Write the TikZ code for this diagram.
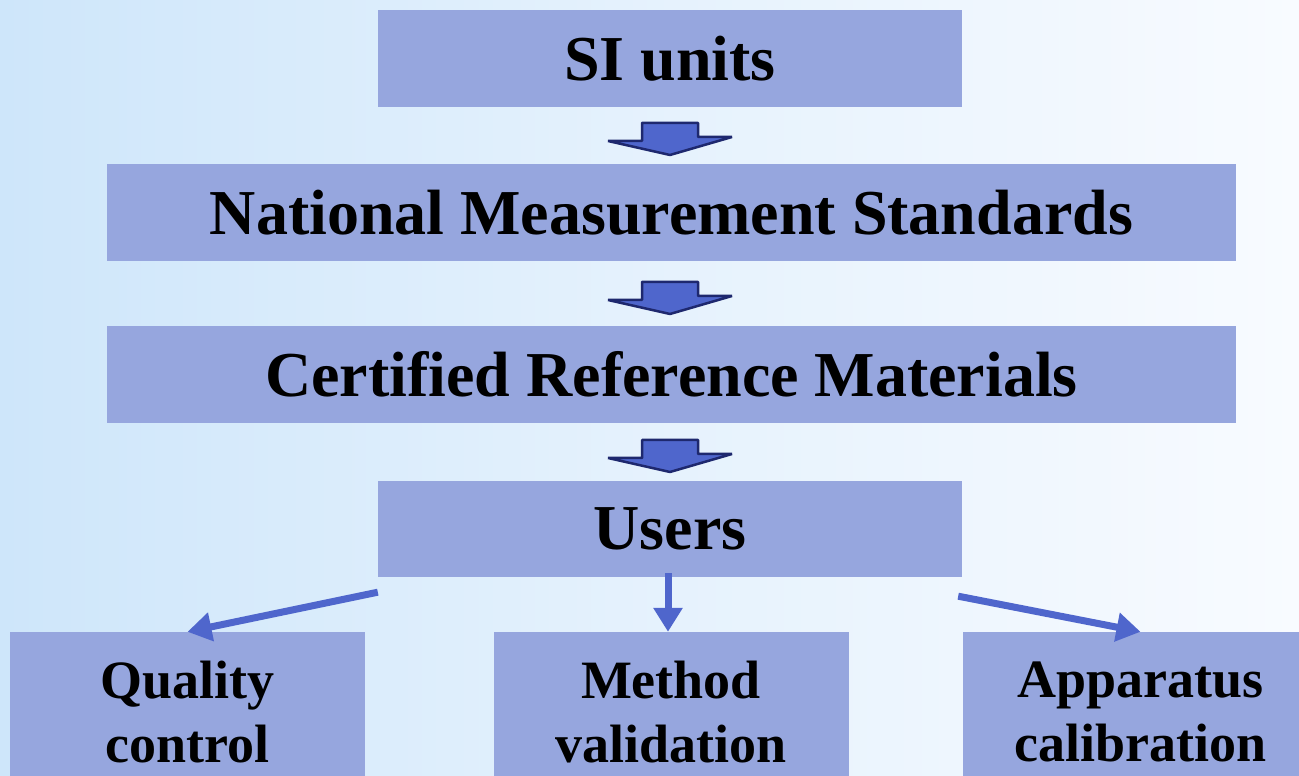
\documentclass[tikz,border=0pt]{standalone}
\usepackage{fontspec}
\setmainfont{Liberation Serif}
\usetikzlibrary{arrows.meta,positioning,calc}
\definecolor{boxblue}{RGB}{150,166,222}
\definecolor{lineblue}{RGB}{79,102,204}
\definecolor{navy}{RGB}{30,40,110}
\definecolor{skyleft}{RGB}{206,230,250}
\definecolor{skyright}{RGB}{248,251,255}
\tikzset{
    level/.style={
           rectangle,
           fill=boxblue,
           inner sep=0pt,
           minimum height=97pt,
           font=\fontsize{64}{77}\selectfont\bfseries,
           },
}
\tikzset{
    use/.style={
           rectangle,
           fill=boxblue,
           inner sep=0pt,
           minimum width=355pt,
           minimum height=160pt,
           align=center,
           font=\fontsize{54}{64}\selectfont\bfseries,
           },
}
\tikzset{
    feed/.style={
           draw=lineblue,
           line width=7pt,
           -{Triangle[length=24pt,width=28pt]},
           },
}
\tikzset{
    fat/.style={
           fill=lineblue,
           draw=navy,
           line width=2.5pt,
           line join=bevel,
           },
}
\newcommand{\downblock}[1]{%
  \draw[fat] ($(#1)+(-28,16)$) -- ++(56,0) -- ++(0,-14) -- ++(34,0)
    -- ($(#1)+(0,-16)$) -- ++(-62,14) -- ++(34,0) -- cycle;}

\begin{document}
\begin{tikzpicture}[x=1pt,y=1pt]
\clip (0,0) rectangle (1299,776);
\shade[left color=skyleft,right color=skyright,middle color=skyleft!45!skyright] (0,0) rectangle (1299,776);
\node[level,minimum width=584pt](si) at (670,717.5){SI units};
\node[level,minimum width=1129pt](nms) at (671.5,563.5){National Measurement Standards};
\node[level,minimum width=1129pt](crm) at (671.5,401.5){Certified Reference Materials};
\node[level,minimum width=584pt,minimum height=96pt](users) at (670,247){Users};
\node[use](qc) at (187.5,64){Quality\\control};
\node[use](mv) at (671,64){Method\\validation};
\node[use](ac) at (1140.5,64){Apparatus\\calibration};
% block arrows between the levels
\coordinate (a1) at (670,637);
\coordinate (a2) at (670,478);
\coordinate (a3) at (670,320);
\downblock{a1}
\downblock{a2}
\downblock{a3}
% from users to the three uses
\coordinate (l) at ($(users.south west)+(0,-15)$);
\coordinate (m) at ($(users.south)+(-2,4)$);
\coordinate (r) at ($(users.south east)+(-4,-19)$);
\draw[feed] (l) -- (qc.north);
\draw[feed] (m) -- (mv.north -| m);
\draw[feed] (r) -- (ac.north);
\end{tikzpicture}
\end{document}
